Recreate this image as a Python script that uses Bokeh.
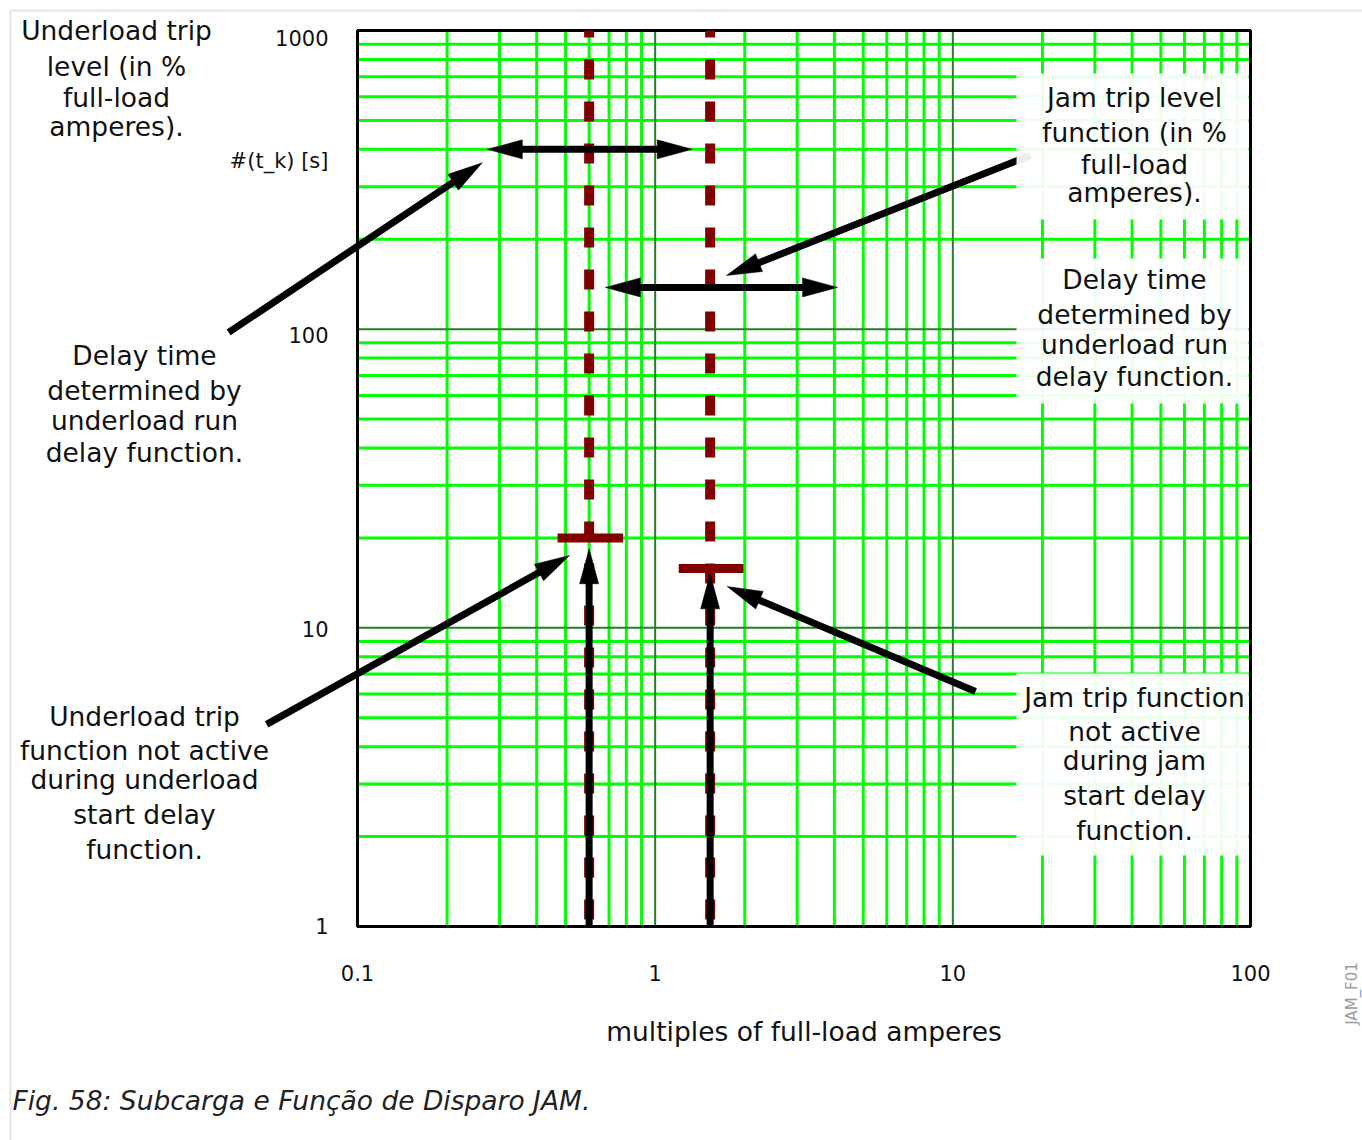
import math
from bokeh.plotting import figure
from bokeh.models import Range1d, Label, Arrow
from bokeh.core.properties import value
from bokeh.embed import file_html
from bokeh.resources import INLINE

# ---------------- data ----------------
x_decades = [0.1, 1, 10, 100]
x_tick_labels = ["0.1", "1", "10", "100"]
y_decades = [1, 10, 100, 1000]
y_tick_labels = ["1", "10", "100", "1000"]
x_minor = [0.2, 0.3, 0.4, 0.5, 0.6, 0.7, 0.8, 0.9,
           2, 3, 4, 5, 6, 7, 8, 9,
           20, 30, 40, 50, 60, 70, 80, 90]
y_minor = [2, 3, 4, 5, 6, 7, 8, 9,
           20, 30, 40, 50, 60, 70, 80, 90,
           200, 300, 400, 500, 600, 700, 800, 900]
x_min, x_max = 0.1, 100
y_min, y_max = 1, 1000

# trip levels (multiples of full-load amperes) and delay times (s)
underload_level = 0.6
underload_delay = 20
underload_bar = [0.47, 0.78]
jam_level = 1.53
jam_delay = 15.8
jam_bar = [1.2, 1.98]

# annotation arrows in data units
arrow_tail_x = [0.273, 0.68, 0.0369, 18.2, 0.0495, 11.92, 0.6, 1.53]
arrow_tail_y = [400, 138, 97.5, 381.5, 4.75, 6.12, 1, 1]
arrow_tip_x = [1.332, 4.1, 0.2625, 1.736, 0.5157, 1.746, 0.6, 1.53]
arrow_tip_y = [400, 138, 360.6, 151.2, 17.47, 13.75, 18.4, 15.16]
arrow_double = [True, True, False, False, False, False, False, False]

# texts
txt_left1 = ["Underload trip", "level (in %", "full-load", "amperes)."]
txt_left2 = ["Delay time", "determined by", "underload run", "delay function."]
txt_left3 = ["Underload trip", "function not active", "during underload", "start delay", "function."]
txt_right1 = ["Jam trip level", "function (in %", "full-load", "amperes)."]
txt_right2 = ["Delay time", "determined by", "underload run", "delay function."]
txt_right3 = ["Jam trip function", "not active", "during jam", "start delay", "function."]
y_axis_title = "#(t_k) [s]"
x_axis_title = "multiples of full-load amperes"
caption = "Fig. 58: Subcarga e Função de Disparo JAM."
fig_id = "JAM_F01"

# ---------------- layout (canvas pixels) ----------------
W, H = 1362, 1140
FL, FT, FR, FB = 357, 30, 1250, 926   # plot box edges on the canvas
KX = 3.0 / (FR - FL)                   # decades per pixel
KY = 3.0 / (FB - FT)


def px_to_data(X, Y):
    return 10 ** (-1 + (X - FL) * KX), 10 ** (3 - (Y - FT) * KY)


def data_to_px(x, y):
    return FL + (math.log10(x) + 1) / KX, FT + (3 - math.log10(y)) / KY


p = figure(width=W, height=H, x_axis_type="log", y_axis_type="log",
           x_range=Range1d(10 ** (-1 - FL * KX), 10 ** (2 + (W - FR) * KX)),
           y_range=Range1d(10 ** (3 - (H - FT) * KY), 10 ** (3 + FT * KY)),
           x_axis_location=None, y_axis_location=None,
           output_backend="svg", toolbar_location=None,
           min_border=0, min_border_left=0, min_border_right=0,
           min_border_top=0, min_border_bottom=0)
p.background_fill_color = "white"
p.border_fill_color = "white"
p.outline_line_color = None
p.xgrid.visible = False
p.ygrid.visible = False

# page frame lines
a = px_to_data(10, 10)
b = px_to_data(W, H)
p.segment(x0=[a[0], a[0]], y0=[a[1], a[1]], x1=[b[0], a[0]], y1=[a[1], b[1]],
          line_color="#e4e4e4", line_width=2)

# grid
BRIGHT, DARK = "#00ff00", "#1f821f"
p.segment(x0=x_minor, x1=x_minor, y0=[y_min] * len(x_minor), y1=[y_max] * len(x_minor),
          line_color=BRIGHT, line_width=3)
p.segment(x0=[x_min] * len(y_minor), x1=[x_max] * len(y_minor), y0=y_minor, y1=y_minor,
          line_color=BRIGHT, line_width=3)
p.segment(x0=x_decades, x1=x_decades, y0=[y_min] * 4, y1=[y_max] * 4, line_color=DARK, line_width=2)
p.segment(x0=[x_min] * 4, x1=[x_max] * 4, y0=y_decades, y1=y_decades, line_color=DARK, line_width=2)
p.quad(left=[x_min], right=[x_max], bottom=[y_min], top=[y_max], fill_color=None,
       line_color="black", line_width=3)

# tick labels
FONT = value("DejaVu Sans")
p.text(x=x_decades, y=[y_min] * 4, text=x_tick_labels, y_offset=46, text_align="center",
       text_baseline="middle", text_font=FONT, text_font_size="21px", text_color="#111111")
y_label_nudge = [-1, 1, 6, 7]
p.text(x=[x_min] * 4, y=y_decades, text=y_tick_labels, x_offset=-29, y_offset=y_label_nudge,
       text_align="right", text_baseline="middle", text_font=FONT, text_font_size="21px",
       text_color="#111111")
p.text(x=[math.sqrt(x_min * x_max)], y=[y_min], text=[x_axis_title], y_offset=105,
       text_align="center", text_baseline="middle", text_font=FONT, text_font_size="26.5px",
       text_color="#111111")

RED = "#800000"
for lvl in (underload_level, jam_level):
    p.line([lvl, lvl], [y_max, y_min], line_color=RED, line_width=10,
           line_dash="20 22", line_dash_offset=13, line_cap="butt")
p.line(underload_bar, [underload_delay] * 2, line_color=RED, line_width=9, line_cap="butt")
p.line(jam_bar, [jam_delay] * 2, line_color=RED, line_width=9, line_cap="butt")

# arrows
HEAD_L, HEAD_W, SHAFT = 35, 9.5, 7


def draw_arrow(x0, y0, x1, y1, both):
    tx, ty = data_to_px(x0, y0)
    hx, hy = data_to_px(x1, y1)
    L = math.hypot(hx - tx, hy - ty)
    ux, uy = (hx - tx) / L, (hy - ty) / L
    nx, ny = -uy, ux

    def head(px_, py_, dx, dy):
        bx, by = px_ - HEAD_L * dx, py_ - HEAD_L * dy
        pts = [(px_, py_), (bx + HEAD_W * nx, by + HEAD_W * ny), (bx - HEAD_W * nx, by - HEAD_W * ny)]
        d = [px_to_data(u, v) for u, v in pts]
        p.patch([q[0] for q in d], [q[1] for q in d], color="black", line_width=0.5)
        return bx + 3 * dx, by + 3 * dy

    ex, ey = head(hx, hy, ux, uy)
    sx, sy = head(tx, ty, -ux, -uy) if both else (tx, ty)
    a0 = px_to_data(sx, sy)
    a1 = px_to_data(ex, ey)
    p.add_layout(Arrow(x_start=a0[0], y_start=a0[1], x_end=a1[0], y_end=a1[1],
                       start=None, end=None, line_color="black", line_width=SHAFT, line_cap="butt"))


for i in range(len(arrow_tail_x)):
    draw_arrow(arrow_tail_x[i], arrow_tail_y[i], arrow_tip_x[i], arrow_tip_y[i], arrow_double[i])

# semi-transparent boxes behind right-hand texts
boxes_px = [(1016, 73, 1248, 219), (1016, 258, 1248, 403), (1016, 673, 1248, 855)]
bl, bt, br, bb = [], [], [], []
for (x0, y0, x1, y1) in boxes_px:
    u = px_to_data(x0, y0)
    v = px_to_data(x1, y1)
    bl.append(u[0]); bt.append(u[1]); br.append(v[0]); bb.append(v[1])
p.quad(left=bl, right=br, top=bt, bottom=bb, fill_color="white", fill_alpha=0.93,
       line_color=None, level="overlay")


def text_block(lines, xc, ys, size="26.5px"):
    for line, yc in zip(lines, ys):
        x, y = px_to_data(xc, yc)
        p.add_layout(Label(x=x, y=y, text=line, text_align="center", text_baseline="middle",
                           text_font="DejaVu Sans", text_font_size=size, text_color="#111111",
                           level="overlay"))


text_block(txt_left1, 116, [29.5, 65.5, 96.5, 125.5])
text_block(txt_left2, 144, [355, 389.5, 419.5, 451.5])
text_block(txt_left3, 144, [716, 750, 778.5, 813.5, 848.5])
text_block(txt_right1, 1134, [97, 131.5, 163.5, 192])
text_block(txt_right2, 1134, [279, 313.5, 343.5, 375.5])
text_block(txt_right3, 1134, [697, 731, 759.5, 794.5, 829.5])

x, y = px_to_data(328, 160)
p.add_layout(Label(x=x, y=y, text=y_axis_title, text_align="right", text_baseline="middle",
                   text_font="DejaVu Sans", text_font_size="21px", text_color="#111111"))
x, y = px_to_data(12, 1100)
p.add_layout(Label(x=x, y=y, text=caption, text_align="left", text_baseline="alphabetic",
                   text_font="DejaVu Sans", text_font_size="26.5px", text_font_style="italic",
                   text_color="#222222"))
x, y = px_to_data(1351, 993)
p.add_layout(Label(x=x, y=y, text=fig_id, text_align="center", text_baseline="middle",
                   angle=math.pi / 2, text_font="DejaVu Sans", text_font_size="15px",
                   text_color="#9a9a9a"))

open("out.html", "w").write(file_html(p, INLINE))
